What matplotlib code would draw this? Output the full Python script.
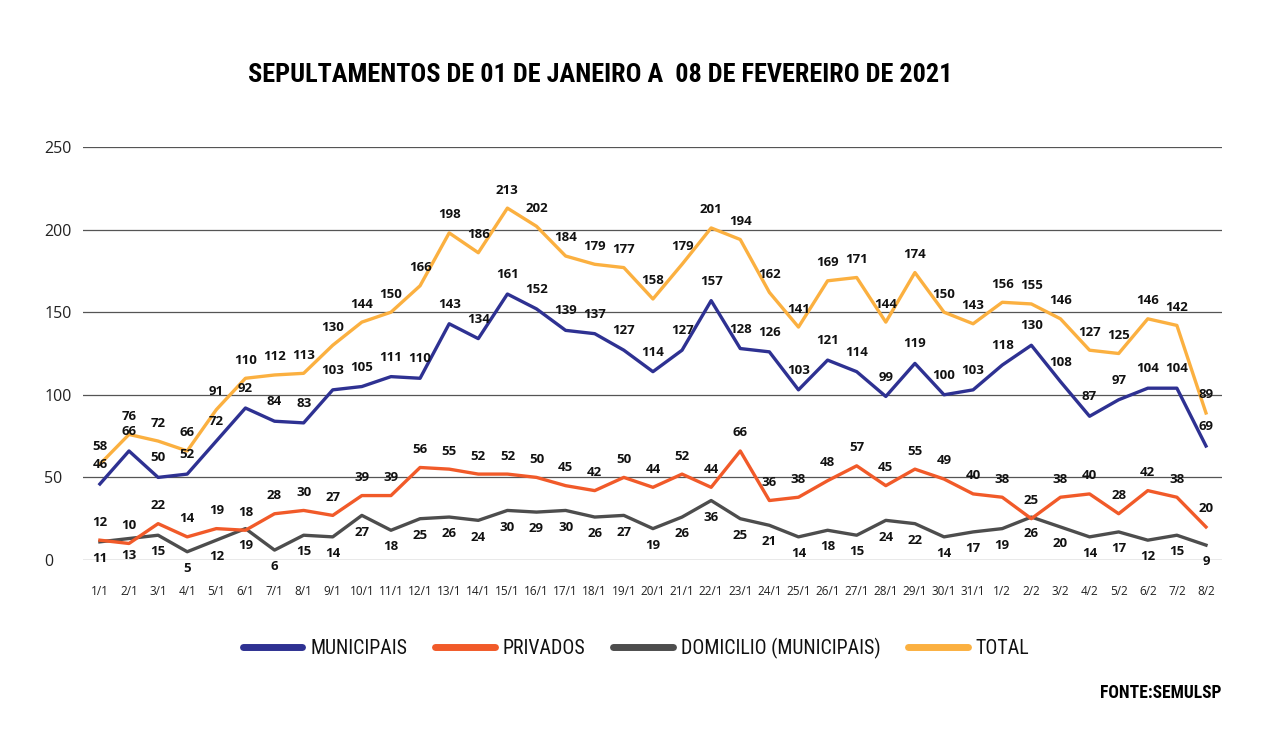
import matplotlib
matplotlib.use("Agg")
import matplotlib.pyplot as plt
from matplotlib.lines import Line2D
from matplotlib import font_manager

dates = ["1/1","2/1","3/1","4/1","5/1","6/1","7/1","8/1","9/1","10/1","11/1","12/1","13/1",
         "14/1","15/1","16/1","17/1","18/1","19/1","20/1","21/1","22/1","23/1","24/1","25/1",
         "26/1","27/1","28/1","29/1","30/1","31/1","1/2","2/2","3/2","4/2","5/2","6/2","7/2","8/2"]
municipais = [46,66,50,52,72,92,84,83,103,105,111,110,143,134,161,152,139,137,127,114,127,157,
              128,126,103,121,114,99,119,100,103,118,130,108,87,97,104,104,69]
privados = [12,10,22,14,19,18,28,30,27,39,39,56,55,52,52,50,45,42,50,44,52,44,66,36,38,48,57,
            45,55,49,40,38,25,38,40,28,42,38,20]
domicilio = [11,13,15,5,12,19,6,15,14,27,18,25,26,24,30,29,30,26,27,19,26,36,25,21,14,18,15,
             24,22,14,17,19,26,20,14,17,12,15,9]
total = [58,76,72,66,91,110,112,113,130,144,150,166,198,186,213,202,184,179,177,158,179,201,
         194,162,141,169,171,144,174,150,143,156,155,146,127,125,146,142,89]
yticks = [0, 50, 100, 150, 200, 250]

C_MUN = "#2e3192"
C_PRI = "#f15a29"
C_DOM = "#4d4d4d"
C_TOT = "#fbb040"

# choose a condensed face if one is installed
entries = font_manager.fontManager.ttflist
names = {f.name for f in entries}
cond_family, cond_stretch = None, 'normal'
for cand in ["Liberation Sans Narrow", "Roboto Condensed", "Open Sans Condensed", "Noto Sans Condensed"]:
    if cand in names:
        cond_family = cand
        break
if cond_family is None:
    for f in entries:
        if f.name == "DejaVu Sans" and str(f.stretch) in ("condensed", "semi-condensed", "500", "375", "extra-condensed"):
            cond_family, cond_stretch = "DejaVu Sans", 'condensed'
            break
if cond_family is None:
    cond_family = "Liberation Sans"

plt.rcParams['font.family'] = ['Open Sans', 'DejaVu Sans']

W, H = 1280, 746
fig = plt.figure(figsize=(W/100, H/100), dpi=100)
fig.patch.set_facecolor("white")
left, right, top, bottom = 83, 1222, 147, 560
ax = fig.add_axes([left/W, 1-bottom/H, (right-left)/W, (bottom-top)/H])

x = list(range(len(dates)))
lw = 2.4
ax.plot(x, domicilio, color=C_DOM, lw=lw, zorder=3)
ax.plot(x, privados, color=C_PRI, lw=lw, zorder=4)
ax.plot(x, municipais, color=C_MUN, lw=lw, zorder=5)
ax.plot(x, total, color=C_TOT, lw=lw, zorder=6)

ax.set_xlim(-0.58, len(dates)-1+0.55)
ax.set_ylim(0, 250)
ax.set_yticks(yticks)
ax.set_yticklabels([str(v) for v in yticks], fontsize=11.5, ha='left', color="#222222")
ax.tick_params(axis='y', length=0, pad=28)
ax.set_xticks(x)
ax.set_xticklabels(dates, fontsize=8.5, color="#222222")
ax.tick_params(axis='x', length=0, pad=18)
for s in ax.spines.values():
    s.set_visible(False)
ax.yaxis.grid(True, color="#555555", lw=0.9)
ax.set_axisbelow(True)

fs = 9.5
def label(series, dy):
    for xi, v in zip(x, series):
        ax.annotate(str(v), (xi, v), xytext=(0, dy), textcoords='offset points',
                    ha='center', va='center', fontsize=fs, fontweight='bold',
                    color='#111111', zorder=10)
label(total, 13)
label(municipais, 14)
label(privados, 13)
label(domicilio, -12)

renderer = fig.canvas.get_renderer()

def fit_width(t, target_px):
    bb = t.get_window_extent(renderer=renderer)
    if bb.width > 0:
        t.set_fontsize(t.get_fontsize() * target_px / bb.width)

title = fig.text(600/W, 1-75/H, "SEPULTAMENTOS DE 01 DE JANEIRO A  08 DE FEVEREIRO DE 2021",
                 ha='center', va='center', fontsize=20, fontweight='bold',
                 family=[cond_family, 'DejaVu Sans'], fontstretch=cond_stretch)
fit_width(title, 705)

handles = [Line2D([0], [0], color=c, lw=5, solid_capstyle='round') for c in (C_MUN, C_PRI, C_DOM, C_TOT)]
labels = ["MUNICIPAIS", "PRIVADOS", "DOMICILIO (MUNICIPAIS)", "TOTAL"]
probe = fig.text(0, 0, "MUNICIPAIS", fontsize=13, family=[cond_family, 'DejaVu Sans'],
                 fontstretch=cond_stretch)
bbp = probe.get_window_extent(renderer=renderer)
leg_size = 13 * 97 / bbp.width
probe.remove()

leg = fig.legend(handles, labels, loc='center', bbox_to_anchor=(636/W, 1-648/H), ncol=4,
                 frameon=False, handlelength=3.0, columnspacing=1.4, handletextpad=0.4,
                 prop={'family': [cond_family, 'DejaVu Sans'], 'size': leg_size,
                       'stretch': cond_stretch})
for t in leg.get_texts():
    t.set_color("#111111")

src = fig.text(1221/W, 1-693/H, "FONTE:SEMULSP", ha='right', va='center', fontsize=11,
               fontweight='bold', family=[cond_family, 'DejaVu Sans'], fontstretch=cond_stretch)
fit_width(src, 122)

fig.savefig("out.png", dpi=100)
